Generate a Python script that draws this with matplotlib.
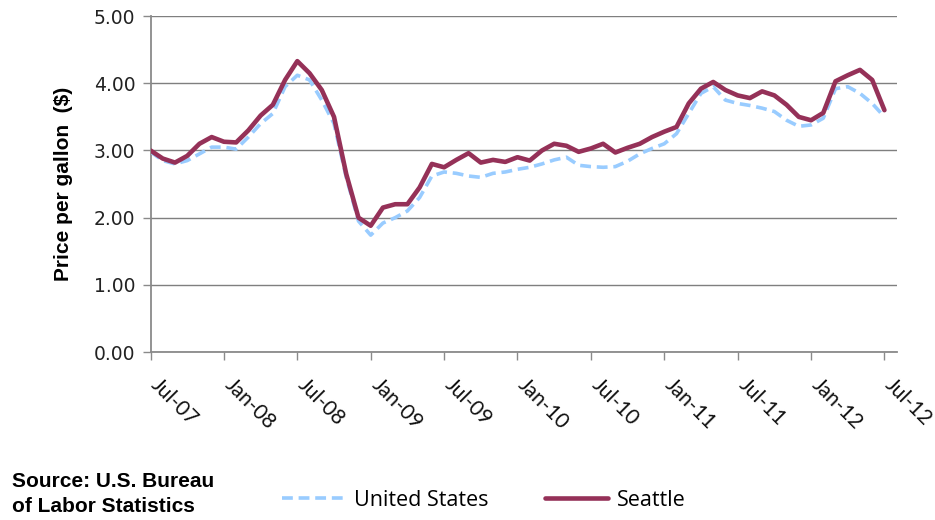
import matplotlib
matplotlib.use("Agg")
import matplotlib.pyplot as plt
import matplotlib.transforms as mtransforms
import numpy as np

months = ["Jul-07","Aug-07","Sep-07","Oct-07","Nov-07","Dec-07",
          "Jan-08","Feb-08","Mar-08","Apr-08","May-08","Jun-08",
          "Jul-08","Aug-08","Sep-08","Oct-08","Nov-08","Dec-08",
          "Jan-09","Feb-09","Mar-09","Apr-09","May-09","Jun-09",
          "Jul-09","Aug-09","Sep-09","Oct-09","Nov-09","Dec-09",
          "Jan-10","Feb-10","Mar-10","Apr-10","May-10","Jun-10",
          "Jul-10","Aug-10","Sep-10","Oct-10","Nov-10","Dec-10",
          "Jan-11","Feb-11","Mar-11","Apr-11","May-11","Jun-11",
          "Jul-11","Aug-11","Sep-11","Oct-11","Nov-11","Dec-11",
          "Jan-12","Feb-12","Mar-12","Apr-12","May-12","Jun-12",
          "Jul-12"]

seattle = [3.00, 2.88, 2.82, 2.92, 3.10, 3.20,
           3.13, 3.12, 3.30, 3.52, 3.68, 4.05,
           4.33, 4.15, 3.90, 3.50, 2.65, 2.00,
           1.88, 2.15, 2.20, 2.20, 2.45, 2.80,
           2.75, 2.86, 2.96, 2.82, 2.86, 2.83,
           2.90, 2.85, 3.00, 3.10, 3.07, 2.98,
           3.03, 3.10, 2.97, 3.04, 3.10, 3.20,
           3.28, 3.35, 3.70, 3.92, 4.02, 3.90,
           3.82, 3.78, 3.88, 3.82, 3.68, 3.50,
           3.45, 3.56, 4.03, 4.12, 4.20, 4.05,
           3.60]

us = [2.98, 2.85, 2.80, 2.85, 2.95, 3.05,
      3.05, 3.02, 3.20, 3.40, 3.55, 3.95,
      4.12, 4.05, 3.75, 3.40, 2.60, 1.95,
      1.74, 1.92, 2.00, 2.10, 2.30, 2.62,
      2.68, 2.66, 2.62, 2.60, 2.66, 2.68,
      2.72, 2.75, 2.80, 2.86, 2.90, 2.78,
      2.76, 2.75, 2.76, 2.84, 2.95, 3.03,
      3.10, 3.25, 3.55, 3.85, 3.95, 3.75,
      3.70, 3.67, 3.63, 3.58, 3.45, 3.36,
      3.38, 3.48, 3.92, 3.95, 3.85, 3.70,
      3.50]

tick_labels = ["Jul-07","Jan-08","Jul-08","Jan-09","Jul-09","Jan-10",
               "Jul-10","Jan-11","Jul-11","Jan-12","Jul-12"]
y_ticks = [0, 1, 2, 3, 4, 5]

plt.rcParams['font.family'] = ['Liberation Sans', 'DejaVu Sans']

fig = plt.figure(figsize=(9.35, 5.2), dpi=100)
ax = fig.add_axes([0.161, 0.323, 0.798, 0.646])

x = np.arange(len(months))
us_line, = ax.plot(x, us, color='#99CCFF', lw=2.6, ls=(0, (3, 1.6)), label='United States', zorder=3)
se_line, = ax.plot(x, seattle, color='#953158', lw=3.3, label='Seattle', zorder=4,
                   solid_joinstyle='round', solid_capstyle='round')

ax.set_xlim(0, 61)
ax.set_ylim(0, 5)
ax.set_yticks(y_ticks)
ax.set_yticklabels([f"{v:.2f}" for v in y_ticks], fontsize=13.5,
                   family=['DejaVu Sans'], color='#222222')
tick_pos = [months.index(t) for t in tick_labels]
ax.set_xticks(tick_pos)
ax.set_xticklabels([])

# rotated x tick labels placed relative to each tick
base = mtransforms.blended_transform_factory(ax.transData, ax.transAxes)
lab_tr = base + mtransforms.ScaledTranslation(0.11, -0.23, fig.dpi_scale_trans)
for p, t in zip(tick_pos, tick_labels):
    ax.text(p, 0, t, transform=lab_tr, rotation=-45, ha='left', va='top',
            rotation_mode='anchor', fontsize=15, family=['Lato', 'DejaVu Sans'],
            color='#111111', clip_on=False)

ax.grid(axis='y', color='#7f7f7f', lw=1.0)
ax.set_axisbelow(True)
for s in ['top', 'right']:
    ax.spines[s].set_visible(False)
for s in ['left', 'bottom']:
    ax.spines[s].set_color('#8a8a8a')
    ax.spines[s].set_linewidth(1.3)
ax.tick_params(axis='both', color='#8a8a8a', length=6, width=1.0)
ax.tick_params(axis='y', pad=5)

ax.set_ylabel("Price per gallon  ($)", fontsize=15, fontweight='bold', labelpad=15)

fig.text(0.013, 1 - 494.0 / 520, "Source: U.S. Bureau\nof Labor Statistics", fontsize=15,
         fontweight='bold', ha='left', va='center', linespacing=1.4)

fig.legend(handles=[us_line, se_line], loc='center left',
           bbox_to_anchor=(282 / 935, 1 - 500.0 / 520), borderpad=0, borderaxespad=0,
           ncol=2, frameon=False, prop={'family': 'Open Sans', 'size': 15.5},
           handlelength=2.95, handletextpad=0.4, columnspacing=2.6)

fig.savefig("out.png", dpi=100)
